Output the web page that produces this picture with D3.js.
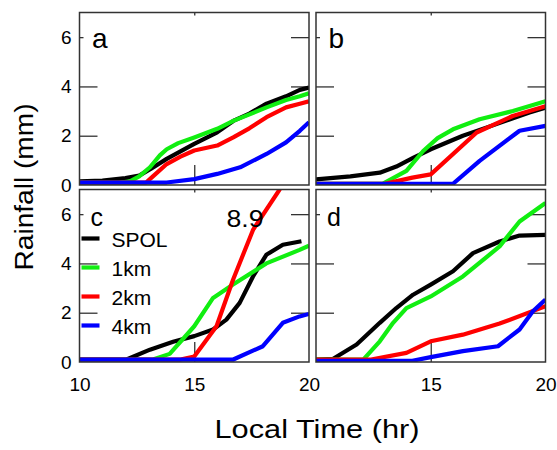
<!DOCTYPE html>
<html>
<head>
<meta charset="utf-8">
<script src="https://cdn.jsdelivr.net/npm/d3@7"></script>
<style>
  body { margin: 0; background: #fff; }
  text { font-family: Arial, "Liberation Sans", sans-serif; fill: #000; }
</style>
</head>
<body>
<div id="chart"></div>
<script>
// rainfall accumulation (mm) vs local time (hr), pairs of [hour, mm]
let series = ['SPOL', '1km', '2km', '4km'];
let colors = ['#000000', '#11ee11', '#ff0000', '#0000ff'];
let panelNames = ['a', 'b', 'c', 'd'];
let yTicks = [0, 2, 4, 6];
let xTicksLeft = [10, 15, 20];
let xTicksRight = [15, 20];

let aSpol = [[10,0.15],[11,0.18],[12,0.28],[12.6,0.38],[13.1,0.65],[13.8,1.06],[15,1.67],[16,2.14],[16.7,2.6],[17.4,2.9],[18.15,3.3],[19,3.6],[19.6,3.86],[20,3.95]];
let a1km = [[10,0.1],[11.8,0.1],[12.2,0.15],[12.6,0.35],[13.07,0.72],[13.5,1.2],[13.8,1.45],[14.3,1.7],[15,1.93],[16,2.28],[16.7,2.6],[18.15,3.15],[19,3.45],[19.6,3.6],[20,3.72]];
let a2km = [[10,0.1],[12.9,0.1],[13.2,0.35],[13.8,0.85],[14.4,1.15],[15,1.4],[16,1.6],[16.7,1.93],[17.4,2.3],[18.15,2.75],[19,3.15],[19.6,3.3],[20,3.4]];
let a4km = [[10,0.1],[13.8,0.1],[15,0.24],[16,0.45],[17,0.72],[18.15,1.26],[19,1.73],[19.6,2.2],[20,2.55]];

let bSpol = [[10,0.23],[11.5,0.35],[12.78,0.5],[13.5,0.75],[14.23,1.1],[15,1.45],[16.4,2.0],[17.86,2.47],[19.3,2.94],[20,3.14]];
let b1km = [[10,0.05],[12.9,0.05],[13.94,0.57],[14.67,1.38],[15.3,1.9],[15.97,2.26],[17.13,2.67],[18.58,3.0],[20,3.4]];
let b2km = [[10,0.05],[13.0,0.05],[14.2,0.3],[15,0.43],[17,2.13],[18.57,2.8],[20,3.2]];
let b4km = [[10,0.05],[15.97,0.05],[17.13,0.98],[18.87,2.2],[20,2.4]];

let cSpol = [[10,0.1],[12.05,0.1],[13.07,0.5],[14.08,0.82],[15,1.05],[15.82,1.32],[16.4,1.72],[16.98,2.4],[17.56,3.47],[18.14,4.35],[18.86,4.76],[19.67,4.9]];
let c1km = [[10,0.1],[13.2,0.1],[13.93,0.33],[15,1.45],[15.82,2.6],[16.69,3.14],[18.14,4.0],[19.59,4.55],[20,4.72]];
let c2km = [[10,0.1],[14.4,0.1],[15,0.22],[15.97,1.45],[16.69,3.34],[17.56,5.36],[18.72,7.0],[20,8.9]];
let c4km = [[10,0.1],[16.7,0.1],[17.99,0.64],[18.86,1.59],[19.59,1.85],[20,1.95]];

let dSpol = [[10,0.1],[10.75,0.13],[11.77,0.71],[12.78,1.59],[13.5,2.19],[14.23,2.73],[15,3.14],[15.97,3.68],[16.84,4.42],[18,4.89],[18.87,5.13],[20,5.16]];
let d1km = [[10,0.1],[12.06,0.1],[12.78,0.84],[13.36,1.59],[13.94,2.19],[15,2.66],[16.4,3.47],[18,4.69],[18.87,5.7],[20,6.45]];
let d2km = [[10,0.1],[12.4,0.1],[13.94,0.37],[15,0.84],[16.4,1.11],[18,1.56],[20,2.26]];
let d4km = [[10,0.05],[14.2,0.05],[15,0.2],[16.4,0.44],[17.93,0.64],[18.87,1.32],[19.45,2.06],[20,2.53]];

let peakLabel = '8.9';

let panelData = [
    [aSpol, a1km, a2km, a4km],
    [bSpol, b1km, b2km, b4km],
    [cSpol, c1km, c2km, c4km],
    [dSpol, d1km, d2km, d4km]
];

let W = 557, H = 450;
let pw = 229.5, ph = 172.5;
let origins = [[79.5, 12.5], [316, 12.5], [79.5, 189.5], [316, 189.5]];
let font = 'Arial, "Liberation Sans", sans-serif';

let svg = d3.select('#chart').append('svg')
    .attr('width', W)
    .attr('height', H);

let x = d3.scaleLinear().domain([10, 20]).range([0, pw]);
let y = d3.scaleLinear().domain([0, 7]).range([ph, 0]);
let line = d3.line().x(function (d) { return x(d[0]); }).y(function (d) { return y(d[1]); });

let frame = '#333';

panelData.forEach(function (lines, p) {
    let g = svg.append('g').attr('transform', 'translate(' + origins[p][0] + ',' + origins[p][1] + ')');

    g.append('clipPath').attr('id', 'clip' + p)
        .append('rect').attr('width', pw).attr('height', ph);

    // inside ticks
    let ticks = g.append('g').attr('class', 'ticks');
    ticks.append('g').call(d3.axisLeft(y).tickValues([2, 4, 6]).tickSize(-18).tickFormat(''));
    ticks.append('g').attr('transform', 'translate(' + pw + ',0)')
        .call(d3.axisRight(y).tickValues([2, 4, 6]).tickSize(-18).tickFormat(''));
    ticks.append('g').attr('transform', 'translate(0,' + ph + ')')
        .call(d3.axisBottom(x).tickValues([15]).tickSize(-20).tickFormat(''));
    ticks.append('g').call(d3.axisTop(x).tickValues([15]).tickSize(-3).tickFormat(''));
    ticks.selectAll('.domain').remove();
    ticks.selectAll('line').attr('stroke', frame).attr('stroke-width', 1.3);

    g.append('g').attr('clip-path', 'url(#clip' + p + ')')
        .selectAll('path')
        .data(lines)
        .enter()
        .append('path')
        .attr('d', line)
        .attr('fill', 'none')
        .attr('stroke', function (d, i) { return colors[i]; })
        .attr('stroke-width', 4.2)
        .attr('stroke-linejoin', 'round');

    g.append('rect')
        .attr('width', pw).attr('height', ph)
        .attr('fill', 'none').attr('stroke', frame).attr('stroke-width', 1.5);

    // panel letter with white box
    let big = p < 2 ? 28 : 25;
    let lx = p < 2 ? 12.5 : 11;
    let ly = p < 2 ? 35.5 : 36.5;
    g.append('rect').attr('x', 4).attr('y', ly - 20).attr('width', 26).attr('height', 22).attr('fill', '#fff');
    g.append('text').attr('x', lx).attr('y', ly)
        .style('font-size', big + 'px')
        .text(panelNames[p]);

    if (p % 2 == 0) {
        let yl = g.append('g').call(d3.axisLeft(y).tickValues(yTicks).tickSize(0).tickPadding(8).tickFormat(d3.format('d')));
        yl.select('.domain').remove();
        yl.selectAll('text').style('font-size', '19px').style('font-family', font);
    }
    if (p >= 2) {
        let xl = g.append('g').attr('transform', 'translate(0,' + ph + ')')
            .call(d3.axisBottom(x).tickValues(p == 2 ? xTicksLeft : xTicksRight).tickSize(0).tickPadding(16).tickFormat(d3.format('d')));
        xl.select('.domain').remove();
        xl.selectAll('text').style('font-size', '19px').style('font-family', font);
    }

    if (p == 2) {
        g.append('text')
            .attr('x', 147).attr('y', 37)
            .attr('textLength', 37).attr('lengthAdjust', 'spacingAndGlyphs')
            .style('font-size', '24px')
            .text(peakLabel);

        let leg = g.selectAll('.leg')
            .data(series)
            .enter()
            .append('g')
            .attr('transform', function (d, i) { return 'translate(2,' + (49 + i * 29) + ')'; });
        leg.append('line')
            .attr('x1', 0).attr('x2', 18)
            .attr('stroke', function (d, i) { return colors[i]; })
            .attr('stroke-width', 4.2);
        leg.append('text')
            .attr('x', 30).attr('y', 8)
            .style('font-size', '21px')
            .text(function (d) { return d; });
    }
});

svg.append('text')
    .attr('transform', 'translate(33,187) rotate(-90)')
    .attr('text-anchor', 'middle')
    .attr('textLength', 167).attr('lengthAdjust', 'spacingAndGlyphs')
    .style('font-size', '25px')
    .text('Rainfall (mm)');

svg.append('text')
    .attr('x', 317).attr('y', 438)
    .attr('text-anchor', 'middle')
    .attr('textLength', 205).attr('lengthAdjust', 'spacingAndGlyphs')
    .style('font-size', '25px')
    .text('Local Time (hr)');
</script>
</body>
</html>
